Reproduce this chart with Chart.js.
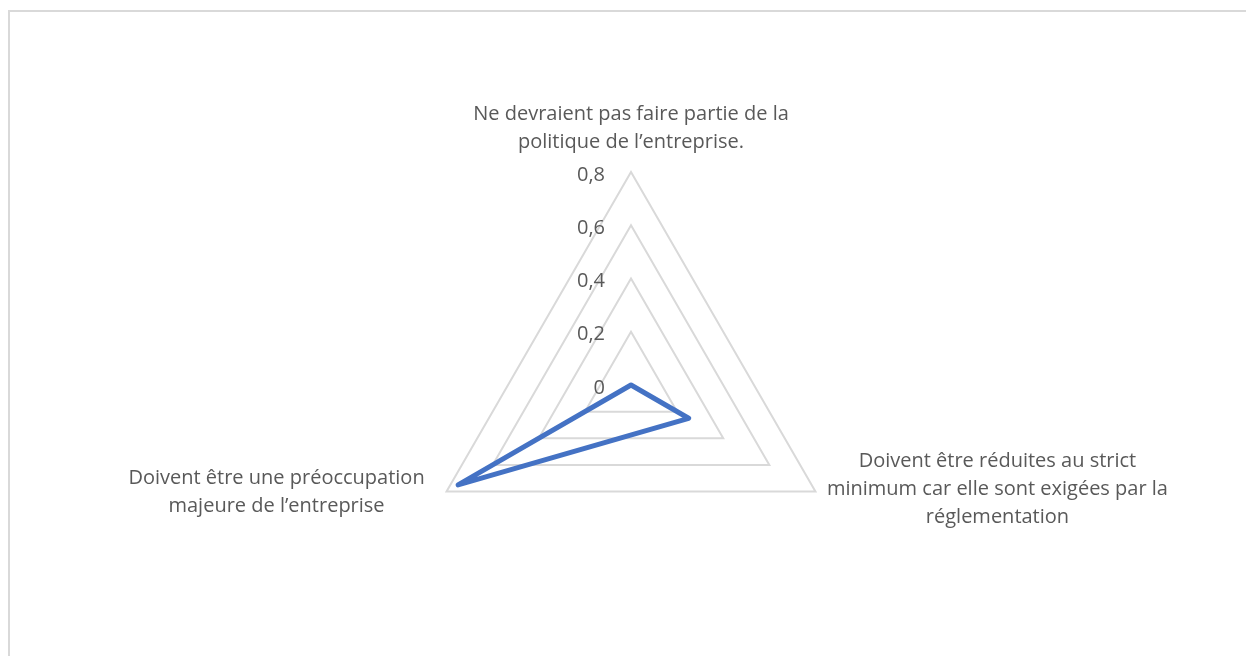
<!DOCTYPE html>
<html>
<head>
<meta charset="utf-8">
<script src="https://cdn.jsdelivr.net/npm/chart.js@4"></script>
<style>
  html, body { margin: 0; padding: 0; background: #fff; overflow: hidden; }
  #frame { position: absolute; left: 8px; top: 10px; width: 1300px; height: 700px;
           border-left: 2px solid #d9d9d9; border-top: 2px solid #d9d9d9; }
  #wrap { position: absolute; left: 0; top: 0; width: 1246px; height: 656px; }
</style>
</head>
<body>
<div id="frame"></div>
<div id="wrap"><canvas id="chart"></canvas></div>
<script>
// data
const categories = [
    ['Ne devraient pas faire partie de la', 'politique de l’entreprise.'],
    ['Doivent être réduites au strict', 'minimum car elle sont exigées par la', 'réglementation'],
    ['Doivent être une préoccupation', 'majeure de l’entreprise']
];
const values = [0, 0.25, 0.75];
const tickLabels = ['0', '0,2', '0,4', '0,6', '0,8'];

const textColor = '#595959';
const textFont = '20px "Open Sans"';

// where each category label block sits, relative to its outer vertex
const labelOffsets = [
    { dx: 0, dy: -44 },
    { dx: 182, dy: -2 },
    { dx: -170, dy: 1 }
];

// tick labels sit left of the vertical axis (Excel style)
const tickLabelPlugin = {
    id: 'tickLabelsLeft',
    afterDatasetsDraw(chart) {
        const s = chart.scales.r;
        const ctx = chart.ctx;
        ctx.save();
        ctx.font = textFont;
        ctx.fillStyle = textColor;
        ctx.textAlign = 'right';
        ctx.textBaseline = 'middle';
        s.ticks.forEach(function(t) {
            const d = s.getDistanceFromCenterForValue(t.value);
            ctx.fillText(t.label, s.xCenter - 26, s.yCenter - d + 3);
        });
        ctx.restore();
    }
};

// centred multi-line category labels
const pointLabelPlugin = {
    id: 'pointLabelsCentered',
    afterDraw(chart) {
        const s = chart.scales.r;
        const ctx = chart.ctx;
        const lh = 28;
        ctx.save();
        ctx.font = textFont;
        ctx.fillStyle = textColor;
        ctx.textAlign = 'center';
        ctx.textBaseline = 'middle';
        categories.forEach(function(lines, i) {
            const p = s.getPointPosition(i, s.drawingArea);
            const cx = p.x + labelOffsets[i].dx;
            const cy = p.y + labelOffsets[i].dy;
            const top = cy - (lines.length - 1) * lh / 2;
            lines.forEach(function(line, j) {
                ctx.fillText(line, cx, top + j * lh);
            });
        });
        ctx.restore();
    }
};

new Chart(document.getElementById('chart'), {
    type: 'radar',
    data: {
        labels: categories,
        datasets: [{
            data: values,
            borderColor: '#4472c4',
            backgroundColor: 'rgba(0,0,0,0)',
            borderWidth: 5,
            borderJoinStyle: 'round',
            pointRadius: 0,
            fill: false,
            tension: 0
        }]
    },
    options: {
        responsive: true,
        maintainAspectRatio: false,
        animation: false,
        events: [],
        layout: {
            padding: { top: 172, bottom: 57, left: 16, right: 0 }
        },
        plugins: {
            legend: { display: false },
            tooltip: { enabled: false }
        },
        scales: {
            r: {
                min: 0,
                max: 0.8,
                ticks: {
                    stepSize: 0.2,
                    display: false,
                    callback: function(value, index) { return tickLabels[index]; }
                },
                grid: { color: '#d9d9d9', lineWidth: 2 },
                angleLines: { display: false },
                pointLabels: { display: false }
            }
        }
    },
    plugins: [tickLabelPlugin, pointLabelPlugin]
});
</script>
</body>
</html>
